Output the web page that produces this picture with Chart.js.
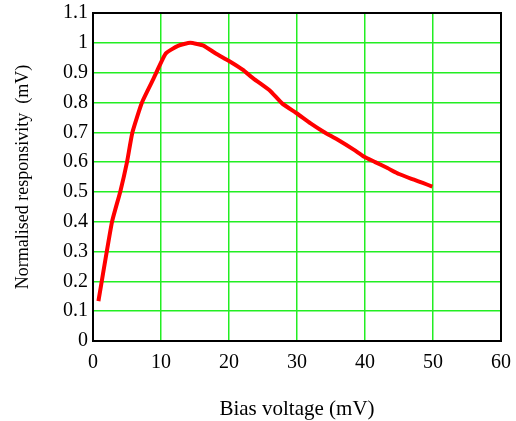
<!DOCTYPE html>
<html>
<head>
<meta charset="utf-8">
<script src="https://cdn.jsdelivr.net/npm/chart.js@4/dist/chart.umd.min.js"></script>
<style>
  html, body { margin: 0; padding: 0; background: #fff; }
  #wrap { width: 516px; height: 421px; }
</style>
</head>
<body>
<div id="wrap"><canvas id="chart" width="516" height="421"></canvas></div>
<script>
// -----------------------
// Data
// -----------------------
const biasVoltage = [0.8, 2.8, 4.0, 5.0, 5.8, 7.2, 8.9, 10.7, 12.5, 14.3, 16.3, 18, 20, 22, 23.6, 26, 27.8, 30, 32, 33.9, 36, 38.4, 39.8, 41.5, 43.3, 45, 47.2, 48.5, 49.9];
const responsivity = [0.134, 0.40, 0.50, 0.60, 0.70, 0.80, 0.88, 0.964, 0.99, 1.0, 0.99, 0.965, 0.939, 0.91, 0.88, 0.84, 0.797, 0.763, 0.73, 0.702, 0.675, 0.641, 0.619, 0.60, 0.58, 0.56, 0.541, 0.53, 0.518];
const xTicks = [0, 10, 20, 30, 40, 50, 60];
const yTicks = [0, 0.1, 0.2, 0.3, 0.4, 0.5, 0.6, 0.7, 0.8, 0.9, 1, 1.1];

const serif = "'Liberation Serif', 'Times New Roman', serif";

// frame round the plot area
const frame = {
  id: 'frame',
  afterDatasetsDraw(chart) {
    const { ctx, chartArea: a } = chart;
    ctx.save();
    ctx.strokeStyle = '#000';
    ctx.lineWidth = 2;
    ctx.strokeRect(a.left, a.top, a.right - a.left, a.bottom - a.top);
    ctx.restore();
  }
};

new Chart(document.getElementById('chart').getContext('2d'), {
  type: 'scatter',
  data: {
    datasets: [{
      data: biasVoltage.map((x, i) => ({ x, y: responsivity[i] })),
      showLine: true,
      borderColor: '#ff0000',
      borderWidth: 4,
      pointRadius: 0,
      tension: 0.15,
      fill: false
    }]
  },
  options: {
    responsive: false,
    animation: false,
    layout: { padding: { top: 13, right: 15, left: 0, bottom: 0 } },
    plugins: { legend: { display: false }, tooltip: { enabled: false } },
    scales: {
      x: {
        type: 'linear', min: 0, max: 60,
        afterBuildTicks: s => { s.ticks = xTicks.map(v => ({ value: v })); },
        afterFit: s => { s.height = 80; s.paddingLeft = 0; s.paddingRight = 0; },
        grid: { color: '#22ee22', lineWidth: 1.5, drawTicks: false },
        border: { color: '#000', width: 2 },
        ticks: { color: '#000', padding: 10, font: { family: serif, size: 20 } },
        title: { display: true, text: 'Bias voltage (mV)', color: '#000', padding: { top: 32, bottom: -1 }, font: { family: serif, size: 21 } }
      },
      y: {
        type: 'linear', min: 0, max: 1.1,
        afterBuildTicks: s => { s.ticks = yTicks.map(v => ({ value: v })); },
        afterFit: s => { s.width = 93; s.paddingTop = 0; s.paddingBottom = 0; },
        grid: { color: '#22ee22', lineWidth: 1.5, drawTicks: false },
        border: { color: '#000', width: 2 },
        ticks: { color: '#000', padding: 5, font: { family: serif, size: 20 }, callback: v => String(Math.round(v * 10) / 10) },
        title: { display: true, text: 'Normalised responsivity  (mV)', color: '#000', padding: { top: 12, bottom: 8 }, font: { family: serif, size: 18 } }
      }
    }
  },
  plugins: [frame]
});
</script>
</body>
</html>
